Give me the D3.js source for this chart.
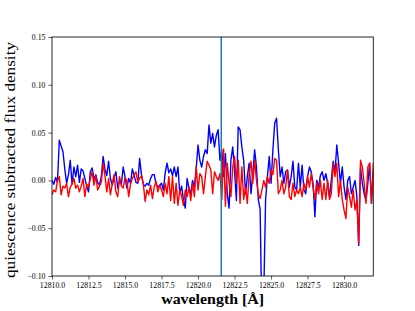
<!DOCTYPE html>
<html>
<head>
<meta charset="utf-8">
<script src="https://cdn.jsdelivr.net/npm/d3@7"></script>
<style>
  body { margin: 0; background: #fff; }
  svg text { font-family: "Liberation Serif", "DejaVu Serif", serif; fill: #000; }
</style>
</head>
<body>
<div class="canvas"></div>
<script>
// wavelength sampling of the spectra (Angstrom)
const lambdaStart = 12810;
const lambdaStep = 0.125;

// quiescence subtracted flux density, blue epoch
const blueFlux = [
  0.000, -0.004, 0.003, -0.002, 0.042, 0.036, 0.030, 0.012,
  -0.003, 0.006, 0.021, -0.004, 0.014, 0.004, 0.016, -0.002,
  0.012, 0.010, 0.002, -0.006, -0.012, 0.009, 0.013, 0.001,
  0.006, -0.002, -0.005, 0.004, 0.025, 0.012, 0.005, 0.020,
  0.002, -0.005, 0.003, 0.009, -0.008, 0.000, -0.004, 0.014,
  0.004, -0.008, 0.002, -0.003, 0.012, 0.005, -0.002, -0.003,
  0.023, 0.006, -0.004, -0.006, -0.003, -0.005, 0.002, 0.006,
  0.006, -0.004, -0.007, -0.005, -0.003, -0.010, 0.008, 0.018,
  0.008, 0.012, 0.005, 0.014, 0.004, 0.014, -0.014, -0.006,
  -0.020, -0.029, 0.002, -0.008, -0.014, 0.000, -0.007, 0.013,
  0.037, 0.021, 0.014, 0.025, 0.032, 0.028, 0.058, 0.039,
  0.049, 0.035, 0.047, 0.053, 0.021, 0.032, 0.004, 0.028,
  -0.014, -0.029, 0.021, 0.035, 0.011, -0.021, 0.056, 0.053,
  0.035, 0.021, -0.014, 0.004, 0.018, -0.014, 0.007, 0.032,
  0.014, -0.020, -0.030, -0.150, -0.120, -0.020, 0.004, 0.025,
  -0.003, 0.032, 0.060, 0.065, 0.032, 0.004, 0.014, -0.003,
  0.009, 0.011, -0.007, 0.004, 0.020, -0.007, -0.010, 0.018,
  -0.007, 0.016, -0.010, -0.014, 0.004, 0.014, 0.009, -0.003,
  -0.038, 0.000, -0.007, 0.005, 0.009, 0.000, 0.007, -0.003,
  -0.017, 0.000, 0.020, 0.008, 0.037, 0.018, -0.003, 0.014,
  -0.007, -0.020, 0.000, 0.004, -0.014, -0.007, 0.000, -0.017,
  -0.068, 0.014, -0.003, -0.014, -0.021, -0.003, 0.018, -0.024,
  0.011
];

// quiescence subtracted flux density, red epoch
const redFlux = [
  -0.015, -0.010, -0.012, 0.000, 0.004, -0.015, -0.006, -0.008,
  -0.003, -0.017, -0.007, -0.004, 0.002, -0.008, -0.005, -0.012,
  -0.006, 0.002, -0.017, -0.004, -0.007, 0.002, 0.009, -0.005,
  0.005, -0.010, -0.006, -0.002, 0.018, 0.005, -0.012, 0.002,
  -0.015, -0.004, 0.006, -0.012, -0.017, 0.004, -0.006, -0.008,
  0.003, 0.000, -0.017, -0.004, 0.002, 0.006, 0.009, -0.002,
  0.002, 0.005, -0.003, -0.022, -0.010, -0.015, -0.005, -0.019,
  -0.007, -0.001, -0.012, -0.005, -0.010, -0.017, -0.003, -0.014,
  0.004, -0.021, 0.004, -0.024, -0.003, -0.026, -0.010, -0.017,
  -0.026, -0.010, -0.017, -0.007, -0.021, -0.003, -0.017, 0.014,
  -0.010, 0.007, 0.004, -0.014, 0.004, 0.020, 0.016, 0.011,
  -0.014, 0.009, 0.004, 0.000, 0.007, -0.020, 0.033, -0.027,
  0.018, -0.003, -0.017, 0.014, 0.025, -0.003, 0.021, -0.024,
  0.014, -0.020, -0.007, -0.024, 0.007, 0.020, -0.003, 0.021,
  0.000, -0.014, -0.019, -0.010, 0.000, -0.007, 0.004, -0.003,
  0.011, 0.006, 0.023, 0.021, -0.014, -0.010, 0.000, -0.014,
  -0.007, 0.011, -0.017, -0.020, -0.003, -0.017, -0.010, -0.014,
  -0.007, -0.017, -0.003, -0.010, 0.004, -0.007, 0.007, -0.007,
  -0.020, -0.003, -0.014, 0.000, -0.020, -0.003, -0.020, 0.000,
  -0.020, -0.014, 0.018, 0.004, 0.018, -0.017, 0.000, -0.020,
  -0.031, -0.040, -0.007, -0.017, -0.028, -0.010, -0.031, -0.020,
  -0.066, 0.021, 0.014, -0.003, -0.024, 0.014, 0.018, -0.024,
  0.018
];

// marked line centre (Pa beta)
const lineCenters = [12821.59];

const xTicks = [12810, 12812.5, 12815, 12817.5, 12820, 12822.5, 12825, 12827.5, 12830];
const yTicks = [-0.10, -0.05, 0.00, 0.05, 0.10, 0.15];

const dims = { width: 415, height: 311 };
const margin = { top: 37, right: 41.7, bottom: 35, left: 52 };
const innerW = dims.width - margin.left - margin.right;
const innerH = dims.height - margin.top - margin.bottom;
const serif = '"Liberation Serif", "DejaVu Serif", serif';

const wavelength = blueFlux.map((d, i) => lambdaStart + i * lambdaStep);

const svg = d3
  .select(".canvas")
  .append("svg")
  .attr("width", dims.width)
  .attr("height", dims.height);

const graph = svg
  .append("g")
  .attr("transform", `translate(${margin.left}, ${margin.top})`);

const x = d3.scaleLinear().domain([12810, 12832]).range([0, innerW]);
const y = d3.scaleLinear().domain([-0.10, 0.15]).range([innerH, 0]);

svg
  .append("defs")
  .append("clipPath")
  .attr("id", "clip")
  .append("rect")
  .attr("width", innerW)
  .attr("height", innerH);

const minus = (s) => s.replace("-", "\u2212");

// axes
const xAxis = d3
  .axisBottom(x)
  .tickValues(xTicks)
  .tickFormat(d3.format(".1f"))
  .tickSize(3.5)
  .tickSizeOuter(0)
  .tickPadding(2.5);

const yAxis = d3
  .axisLeft(y)
  .tickValues(yTicks)
  .tickFormat((d) => minus(d3.format(".2f")(d)))
  .tickSize(3.5)
  .tickSizeOuter(0)
  .tickPadding(3);

const gx = graph.append("g").attr("transform", `translate(0, ${innerH})`).call(xAxis);
const gy = graph.append("g").call(yAxis);

[gx, gy].forEach((g) => {
  g.attr("font-family", serif);
  g.select(".domain").remove();
  g.selectAll(".tick line").attr("stroke", "#333").attr("stroke-width", 0.8);
  g.selectAll(".tick text")
    .attr("font-family", serif)
    .attr("font-size", 7.8)
    .attr("fill", "#000");
});

// spectra
const line = d3
  .line()
  .x((d, i) => x(wavelength[i]))
  .y((d) => y(d));

const plot = graph.append("g").attr("clip-path", "url(#clip)");

plot
  .append("path")
  .datum(blueFlux)
  .attr("fill", "none")
  .attr("stroke", "#0000ff")
  .attr("stroke-width", 1.4)
  .attr("stroke-linejoin", "round")
  .attr("d", line);

plot
  .append("path")
  .datum(redFlux)
  .attr("fill", "none")
  .attr("stroke", "#ff0000")
  .attr("stroke-width", 1.4)
  .attr("stroke-linejoin", "round")
  .attr("d", line);

plot
  .selectAll("line.center")
  .data(lineCenters)
  .enter()
  .append("line")
  .attr("class", "center")
  .attr("x1", (d) => x(d))
  .attr("x2", (d) => x(d))
  .attr("y1", 0)
  .attr("y2", innerH)
  .attr("stroke", "#1f77b4")
  .attr("stroke-width", 1.5);

// frame
graph
  .append("rect")
  .attr("width", innerW)
  .attr("height", innerH)
  .attr("fill", "none")
  .attr("stroke", "#111")
  .attr("stroke-width", 0.9);

// axis labels
svg
  .append("text")
  .attr("x", margin.left + innerW / 2)
  .attr("y", 304)
  .attr("text-anchor", "middle")
  .attr("font-size", 14)
  .attr("font-weight", "bold")
  .attr("textLength", 103)
  .attr("lengthAdjust", "spacingAndGlyphs")
  .text("wavelength [\u00c5]");

svg
  .append("text")
  .attr("transform", `translate(15, 160) rotate(-90)`)
  .attr("text-anchor", "middle")
  .attr("font-size", 15)
  .attr("textLength", 236)
  .attr("lengthAdjust", "spacingAndGlyphs")
  .text("quiescence subtracted flux density");
</script>
</body>
</html>
